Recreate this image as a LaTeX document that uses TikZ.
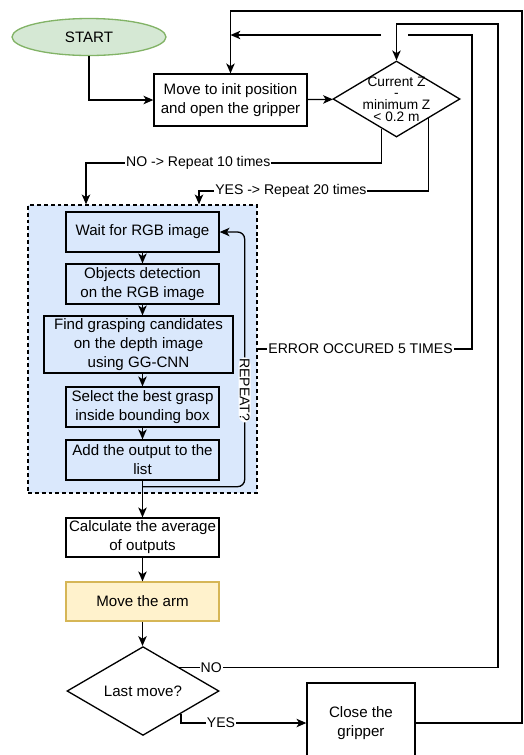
\documentclass[tikz,border=0pt]{standalone}
\usepackage{fontspec}
\setmainfont{Liberation Sans}
\usetikzlibrary{calc, shapes.geometric, arrows.meta}
\definecolor{startfill}{HTML}{D5E8D4}
\definecolor{startline}{HTML}{82B366}
\definecolor{loopfill}{HTML}{DAE8FC}
\definecolor{armfill}{HTML}{FFF2CC}
\definecolor{armline}{HTML}{D6B656}
\newcommand\pu{0.02cm}
\newcommand\boxfont{\fontsize{8.6}{10.8}\selectfont}
\newcommand\lblfont{\fontsize{8}{9.6}\selectfont}
\tikzset{
  block/.style={draw, rectangle, line width=0.75pt, align=center, font=\boxfont,
    inner xsep=1pt, inner ysep=1pt, minimum width=153*\pu, minimum height=40*\pu},
  decision/.style={draw, diamond, line width=0.75pt, align=center, font=\boxfont, inner sep=0pt},
  conn/.style={line width=0.75pt, -{Stealth[length=5.6pt, width=4.8pt, inset=1.5pt]}},
  line/.style={line width=0.75pt},
  lbl/.style={fill=white, font=\lblfont, inner sep=0.6pt},
}

\begin{document}
\begin{tikzpicture}[x=\pu, y=-\pu]
\useasboundingbox (0,0) rectangle (524,755);

% grasp detection loop
\node[draw, dash pattern=on 2.2pt off 1.7pt, fill=loopfill, line width=0.75pt,
  minimum width=229*\pu, minimum height=288*\pu] (grp) at (142.5,349) {};

\node[ellipse, draw=startline, fill=startfill, line width=0.75pt, font=\boxfont,
  minimum width=154*\pu, minimum height=37*\pu] (start) at (89,37) {START};
\node[block, minimum height=52*\pu] (init) at (230.5,100) {Move to init position\\and open the gripper};
\node[decision, minimum width=127*\pu, minimum height=76*\pu,
  label={[font=\fontsize{7.8}{6.6}\selectfont, align=center]center:{Current Z\\-\\minimum Z\\< 0.2 m}}] (zchk) at (396.5,99) {};

\node[block] (wait) at (142.5,232) {Wait for RGB image};
\node[block] (detect) at (142.5,284) {Objects detection\\on the RGB image};
\node[block, minimum width=189*\pu, minimum height=57*\pu] (grasp) at (138.5,344.5) {Find grasping candidates\\on the depth image\\using GG-CNN};
\node[block] (select) at (142.5,407) {Select the best grasp\\inside bounding box};
\node[block] (addout) at (142.5,460) {Add the output to the\\list};

\node[block, minimum height=39*\pu] (calc) at (142.5,537.5) {Calculate the average\\of outputs};
\node[block, minimum height=39*\pu, draw=armline, fill=armfill] (move) at (142.5,601.5) {Move the arm};
\node[decision, minimum width=152*\pu, minimum height=88*\pu] (last) at (143,691) {Last move?};
\node[block, minimum width=108*\pu, minimum height=80*\pu] (close) at (361,723) {Close the\\gripper};

\coordinate (nojoin) at (86,163);
\coordinate (yesjoin) at (199,191);
\coordinate (errup) at (472,35);
\coordinate (gapR) at (408,35);
\coordinate (gapL) at (381,35);
\coordinate (backR) at (498,24);
\coordinate (topR) at (522,11);
\coordinate (rep0) at ($(addout.south)+(0,6)$);

\draw[conn] (start.south) |- (init.west);
\draw[conn] (init) -- (zchk);
\draw[conn] (zchk.243) |- node[lbl, pos=0.81] {NO -> Repeat 10 times} (nojoin) -- (nojoin |- grp.north);
\draw[conn] (zchk.329) |- node[lbl, pos=0.8] {YES -> Repeat 20 times} (yesjoin) -- (yesjoin |- grp.north);

\foreach \a/\b in {wait/detect, detect/grasp, grasp/select, select/addout, addout/calc, calc/move, move/last}
  \draw[conn] (\a.south -| wait.south) -- (\b.north -| wait.south);

\draw[conn, rounded corners=4pt] (rep0) -| node[lbl, pos=0.69, rotate=-90] {REPEAT?} ($(wait.east)+(25,0)$) -- (wait.east);

% way back to the top
\draw[line] (grp.east) -| node[lbl, pos=0.24] {ERROR OCCURED 5 TIMES} (errup) -- (gapR);
\draw[conn] (gapL) -- (gapL -| init.north);
\draw[conn] (last.33) -| node[lbl, pos=0.05] {NO} (backR) -| (zchk.north);
\draw[conn] (last.329) |- node[lbl, pos=0.66] {YES} (close.west);
\draw[conn] (close.east) -| (topR) -| (init.north);

\end{tikzpicture}
\end{document}
